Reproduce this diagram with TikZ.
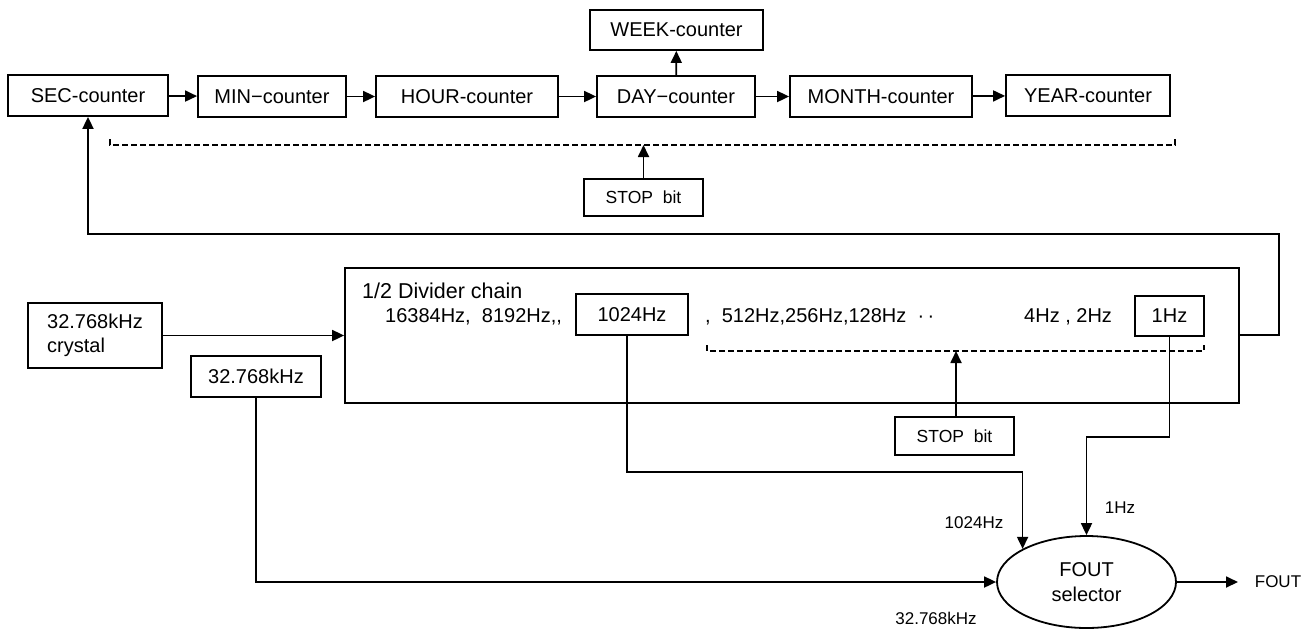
\documentclass[tikz,border=0pt]{standalone}
\usepackage{fontspec}
\setmainfont{Liberation Sans}
\usetikzlibrary{arrows.meta,shapes.geometric}
\begin{document}
\begin{tikzpicture}[x=1pt,y=-1pt,
  box/.style={draw,line width=1.8pt,inner sep=0pt,font=\fontsize{20}{24}\selectfont},
  arr/.style={line width=1.8pt,-{Triangle[length=12pt,width=11pt]}},
  dline/.style={line width=1.4pt,dash pattern=on 6pt off 3pt},
  lbl/.style={inner sep=0pt,font=\fontsize{17}{20}\selectfont},
  txt/.style={inner sep=0pt,font=\fontsize{20}{24}\selectfont}]
\useasboundingbox[fill=white] (0,0) rectangle (1316,630);

% top row counters
\node[box,minimum width=160pt,minimum height=41pt] (sec) at (88,95.5) {SEC-counter};
\node[box,minimum width=148pt,minimum height=41pt] (min) at (272,96.5) {MIN−counter};
\node[box,minimum width=182pt,minimum height=41pt] (hour) at (467,96.5) {HOUR-counter};
\node[box,minimum width=158pt,minimum height=41pt] (day) at (676,96.5) {DAY−counter};
\node[box,minimum width=173pt,minimum height=40pt] (week) at (676.5,30) {WEEK-counter};
\node[box,minimum width=182pt,minimum height=41pt] (month) at (881,96.5) {MONTH-counter};
\node[box,minimum width=164pt,minimum height=41pt] (year) at (1088,95.5) {YEAR-counter};
\node[box,minimum width=119pt,minimum height=37pt,font=\fontsize{17.5}{20}\selectfont] (stopa) at (643.5,197.5) {STOP\ \ bit};

\draw[arr] (sec) -- (min);
\draw[arr] (min) -- (hour);
\draw[arr] (hour) -- (day);
\draw[arr] (day) -- (month);
\draw[arr] (month) -- (year);
\draw[arr] (day) -- (week);

\draw[dline] (110,139) -- (110,145) -- (1175,145) -- (1175,137);
\coordinate (stopaend) at (643.5,145);
\draw[arr] (stopa.north) -- (stopaend);

% divider chain
\node[draw,line width=1.8pt,inner sep=0pt,minimum width=894pt,minimum height=135pt] (div) at (792,335.5) {};
\node[txt,anchor=base west,font=\fontsize{21.5}{24}\selectfont] (divtitle) at (362,298) {1/2 Divider chain};
\node[txt,anchor=base west] (fa) at (385,322) {16384Hz,\ \ 8192Hz,{},};
\node[box,minimum width=112pt,minimum height=41pt] (b1024) at (632,314.5) {1024Hz};
\node[txt,anchor=base west] (fb) at (705,322) {,\ \ 512Hz,256Hz,128Hz\ \ ·\,·};
\node[txt,anchor=base west] (fc) at (1024,322) {4Hz , 2Hz};
\node[box,minimum width=69pt,minimum height=40pt] (b1hz) at (1169.5,316) {1Hz};
\draw[dline] (707,345) -- (707,351) -- (1204,351) -- (1204,345);
\node[box,minimum width=119pt,minimum height=38pt,font=\fontsize{17.5}{20}\selectfont] (stopb) at (954.5,436) {STOP\ \ bit};
\coordinate (stopbend) at (956,351);
\draw[arr] (stopb.north -| stopbend) -- (stopbend);

% crystal and 32k
\node[box,minimum width=134pt,minimum height=65pt,align=left] (xtal) at (95,335.5) {32.768kHz\\crystal};
\node[box,minimum width=130pt,minimum height=41pt] (f32) at (256,376.5) {32.768kHz};
\draw[arr] (xtal.east) -- (xtal.east -| div.west);

% feedback to SEC-counter
\draw[arr] (div.east |- 0,335) -- (1279,335) |- (sec.south |- 0,234) -- (sec.south);

% FOUT selector
\node[draw,ellipse,line width=1.8pt,inner sep=0pt,minimum width=179pt,minimum height=92pt,align=center,font=\fontsize{20}{25}\selectfont] (fout) at (1086.5,582) {FOUT\\selector};
\node[lbl] (foutlbl) at (1278,582) {FOUT};
\coordinate (foutend) at (1238,582);
\draw[arr] (fout.east) -- (foutend);

\draw[arr] ([xshift=-5pt]b1024.south) |- (fout.north west |- 0,472) -- (fout.north west);
\draw[arr] (b1hz.south) |- (fout.north |- 0,437) -- (fout.north);
\draw[arr] (f32.south) |- (fout.west);

\node[lbl] (l1hz) at (1120,508) {1Hz};
\node[lbl] (l1024) at (974,523) {1024Hz};
\node[lbl] (l32k) at (936,618) {32.768kHz};
\end{tikzpicture}
\end{document}
